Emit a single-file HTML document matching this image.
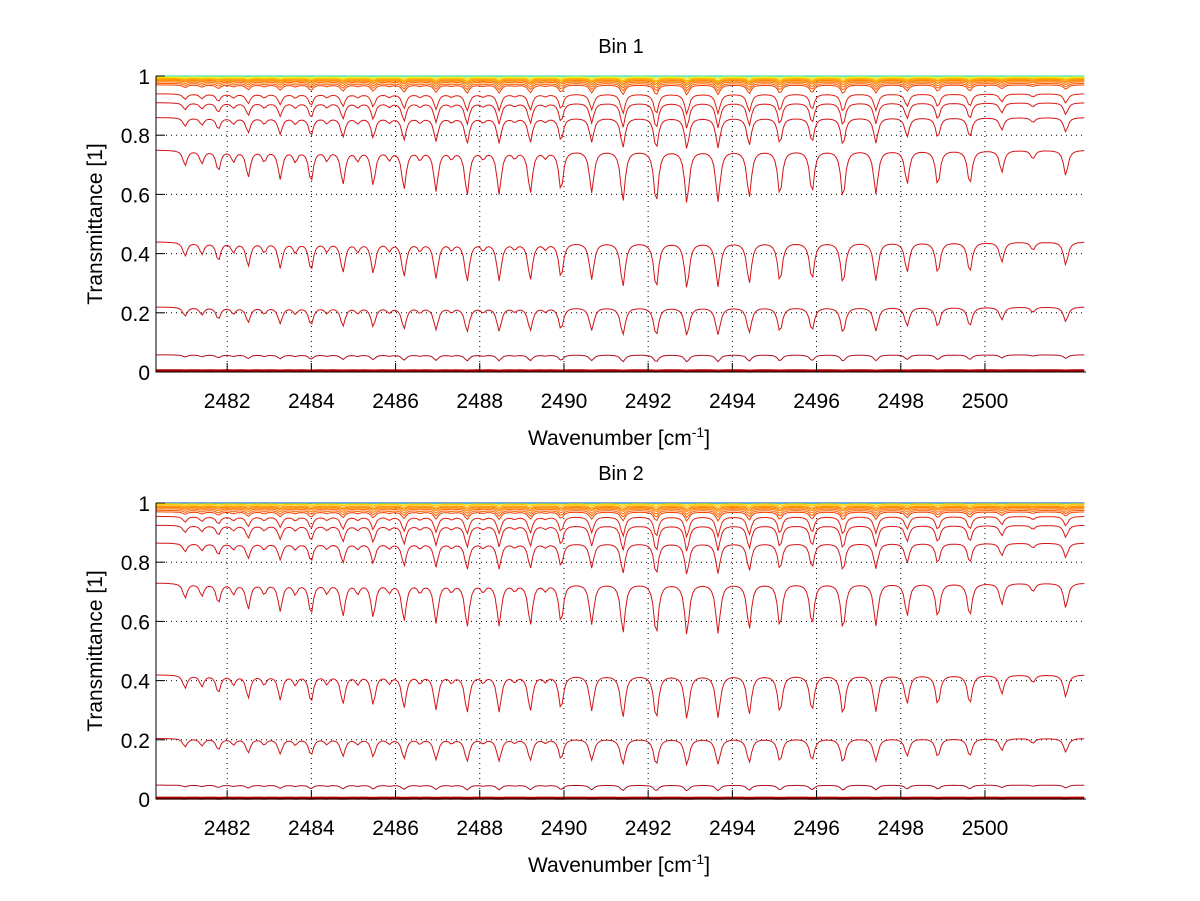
<!DOCTYPE html>
<html><head><meta charset="utf-8"><style>
html,body{margin:0;padding:0;background:#fff;}
svg{display:block;font-family:"Liberation Sans",sans-serif;}
</style></head><body>
<svg id="fig" width="1200" height="901" viewBox="0 0 1200 901" xmlns="http://www.w3.org/2000/svg"></svg>
<script>
// ---- data ----
const xTicks = [2482,2484,2486,2488,2490,2492,2494,2496,2498,2500];
const yTicks = [0,0.2,0.4,0.6,0.8,1];
const yTickLabels = ["0","0.2","0.4","0.6","0.8","1"];
const lineCenters = [2481.0,2481.79,2482.50,2483.26,2483.99,2484.75,2485.47,2486.20,2486.96,2487.70,2488.46,2489.20,2489.93,2490.66,2491.40,2492.19,2492.92,2493.66,2494.40,2495.13,2495.89,2496.63,2497.41,2498.15,2498.88,2499.64,2500.40,2501.14,2501.92];
const lineDepths = [0.071,0.096,0.127,0.137,0.153,0.164,0.169,0.191,0.202,0.224,0.218,0.213,0.20,0.21,0.261,0.272,0.272,0.261,0.238,0.227,0.213,0.242,0.218,0.164,0.173,0.167,0.105,0.04,0.123];
const minorCenters = [2481.4,2482.15,2482.88,2483.62,2484.37,2485.1,2485.85,2486.58,2487.33,2488.08,2488.83,2489.56];
const minorDepths = [0.06,0.05,0.05,0.05,0.045,0.045,0.04,0.04,0.035,0.035,0.03,0.03];
const bin1Bases = [1.0,0.998,0.995,0.992,0.99,0.987,0.984,0.98,0.975,0.97,0.94,0.91,0.86,0.75,0.44,0.22,0.058,0.004];
const bin1Scales = [0.0,0.01,0.02,0.03,0.04,0.05,0.06,0.08,0.1,0.13,0.28,0.37,0.48,1.0,1.6,2.1,1.9,1.0];
const bin2Bases = [1.0,0.999,0.997,0.994,0.99,0.987,0.984,0.98,0.975,0.97,0.955,0.925,0.865,0.73,0.42,0.205,0.047,0.003];
const bin2Scales = [0.0,0.0,0.01,0.02,0.03,0.04,0.05,0.07,0.09,0.12,0.28,0.37,0.48,1.0,1.6,2.1,1.9,1.0];
const bin1Colors = ["#20d0c0","#a0ff60","#ffe000","#ffc000","#ffa000","#ff9000","#ff8000","#ff7000","#ff6000","#f04000","#e02010","#d81818","#d41418","#d41418","#d41418","#cc1418","#b01020","#b00000"];
const bin2Colors = ["#0000b0","#00a0e0","#ffe000","#ffc000","#ffa000","#ff9000","#ff8000","#ff7000","#ff6000","#f04000","#e02010","#d81818","#d41418","#d41418","#d41418","#cc1418","#b01020","#b00000"];
// ---- layout ----
const X0=156,X1=1086, XMIN=2480.31, XMAX=2502.4;
const NS="http://www.w3.org/2000/svg";
const svg=document.getElementById('fig');
function el(t,a,p){const e=document.createElementNS(NS,t);for(const k in a)e.setAttribute(k,a[k]);(p||svg).appendChild(e);return e;}
function sx(v){return X0+(v-XMIN)/(XMAX-XMIN)*(X1-X0);}
function spectrum(x,scale){
  let t=0,g=0.06;
  for(let j=0;j<lineCenters.length;j++){const d=x-lineCenters[j];t+=lineDepths[j]*g*g/(d*d+g*g);}
  for(let j=0;j<minorCenters.length;j++){const d=x-minorCenters[j];t+=minorDepths[j]*g*g/(d*d+g*g);}
  return Math.exp(-scale*t);
}
function panel(id,yTop,yBot,title,bases,scales,colors){
  const g=el('g',{});
  
  
  const sy=v=>yBot-(v)*(yBot-yTop);
  for(const v of xTicks){const l=el('line',{x1:sx(v),x2:sx(v),y1:yTop,y2:yBot,stroke:'#000','stroke-width':1,'stroke-dasharray':'1,4'},g);}
  for(const v of yTicks){if(v===0)continue;const l=el('line',{x1:X0,x2:X1,y1:sy(v),y2:sy(v),stroke:'#000','stroke-width':1,'stroke-dasharray':'1,4'},g);}
  for(let i=0;i<bases.length;i++){
    let pts=[];
    for(let x=XMIN;x<=XMAX+1e-9;x+=0.05){pts.push(sx(x).toFixed(1)+','+sy(bases[i]*spectrum(x,scales[i])).toFixed(1));}
    const p=el('polyline',{points:pts.join(' '),fill:'none',stroke:colors[i],'stroke-width':i===bases.length-1?3:1},g);
    
    
  }
  const ax=el('path',{d:`M${X0},${yTop}V${yBot}H${X1}`,fill:'none',stroke:'#000','stroke-width':1},g);
  
  for(const v of xTicks){
    el('line',{x1:sx(v),x2:sx(v),y1:yBot,y2:yBot-9,stroke:'#000'},g);
    const t=el('text',{x:sx(v),y:yBot+36,'text-anchor':'middle','font-size':21},g);t.textContent=v;
    
  }
  yTicks.forEach((v,k)=>{
    el('line',{x1:X0,x2:X0+9,y1:sy(v),y2:sy(v),stroke:'#000'},g);
    const t=el('text',{x:X0-6,y:sy(v)+8,'text-anchor':'end','font-size':21},g);t.textContent=yTickLabels[k];
    
  });
  const tt=el('text',{x:621,y:yTop-23,'text-anchor':'middle','font-size':20},g);tt.textContent=title;
  
  const yl=el('text',{x:0,y:0,'text-anchor':'middle','font-size':21,transform:`translate(102,${(yTop+yBot)/2}) rotate(-90)`},g);yl.textContent='Transmittance [1]';
  
  const xl=el('text',{x:619,y:yBot+73,'text-anchor':'middle','font-size':21},g);
  
  xl.appendChild(document.createTextNode('Wavenumber [cm'));
  const sup=el('tspan',{dy:-8,'font-size':14},xl);sup.textContent='-1';
  const rest=el('tspan',{dy:8},xl);rest.textContent=']';
}
panel('bin-1-panel',76,372,'Bin 1',bin1Bases,bin1Scales,bin1Colors);
panel('bin-2-panel',503,799,'Bin 2',bin2Bases,bin2Scales,bin2Colors);
</script>
</body></html>
